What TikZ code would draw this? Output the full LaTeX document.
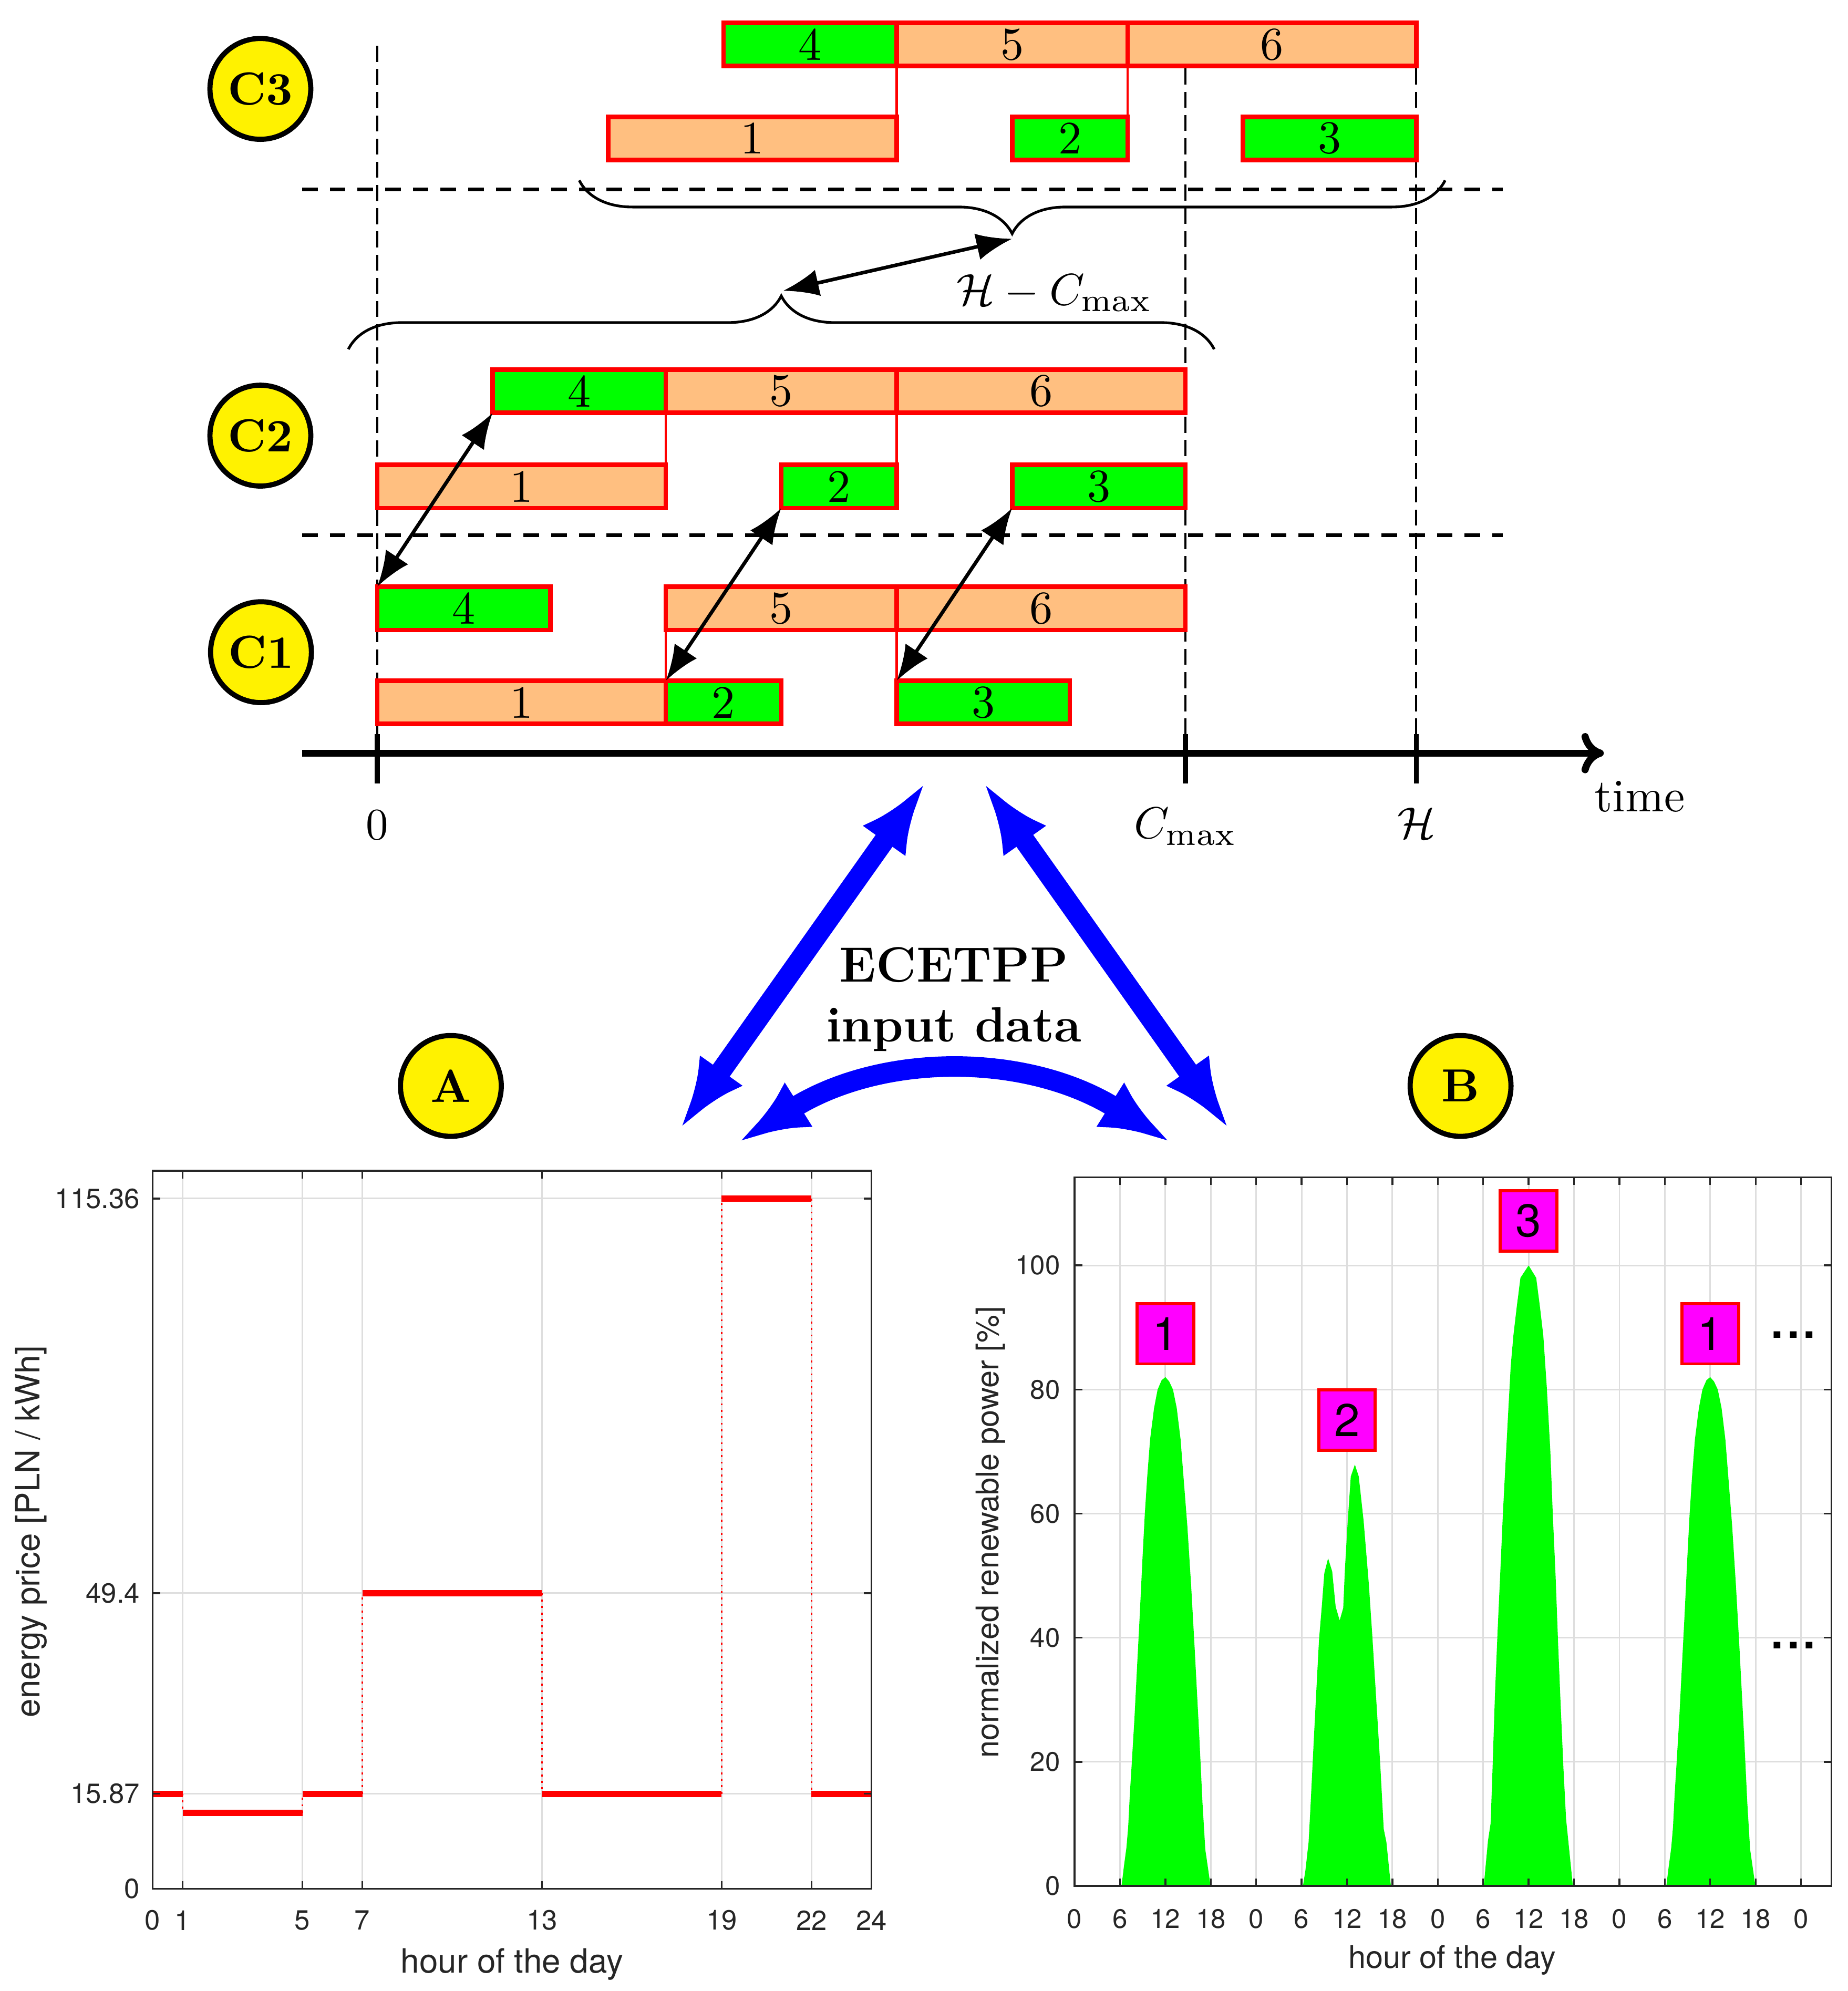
\documentclass[tikz,border=0pt]{standalone}
\usepackage{fontspec}
\newfontfamily\plotfont{TeX Gyre Heros}
\usetikzlibrary{arrows.meta,decorations.pathreplacing}

\definecolor{plotgray}{RGB}{38,38,38}
\definecolor{gridgray}{RGB}{222,222,222}
\definecolor{machinefill}{RGB}{255,242,0}
\definecolor{peakfill}{RGB}{255,0,255}
\newcommand{\ganttfont}{\fontsize{10.4}{12.5}\selectfont}

\tikzset{
  job/.style={draw=red, line width=1pt, anchor=north west, inner sep=0pt, outer sep=0pt,
              minimum height=3.4mm, minimum width=#1*4.545mm, font=\ganttfont},
  gjob/.style={job=#1, fill=green},
  ojob/.style={job=#1, fill=orange!50},
  link/.style={red, line width=0.5pt},
  machine/.style={circle, draw, line width=1.15pt, fill=machinefill,
                  minimum size=7.94mm, inner sep=0pt, font=\ganttfont\bfseries},
  pair/.style={thick, {Latex[length=8pt,width=6pt]}-{Latex[length=8pt,width=6pt]}},
  feed/.style={blue, line width=4.6pt,
               {Latex[length=15.7pt,width=11.8pt]}-{Latex[length=15.7pt,width=11.8pt]}},
  vguide/.style={line width=0.5pt, dash pattern=on 3.6pt off 1.6pt},
  hguide/.style={line width=0.8pt, dash pattern=on 3.5pt off 2.7pt},
  span brace/.style={semithick, decorate, decoration={brace, amplitude=4.2mm}},
  frame/.style={plotgray, line width=0.4pt},
  grid line/.style={gridgray, line width=0.35pt},
  price/.style={red, line width=1.4pt},
  price step/.style={red, line width=0.45pt, densely dotted},
  tick label A/.style={text=plotgray, inner sep=0pt, font=\plotfont\fontsize{6.2}{7.5}\selectfont},
  axis label A/.style={text=plotgray, inner sep=0pt, font=\plotfont\fontsize{7.5}{9}\selectfont},
  tick label B/.style={text=plotgray, inner sep=0pt, font=\plotfont\fontsize{6}{7.2}\selectfont},
  axis label B/.style={text=plotgray, inner sep=0pt, font=\plotfont\fontsize{7}{8.4}\selectfont},
  peak/.style={draw=red, fill=peakfill, line width=0.7pt, minimum width=4.45mm,
               minimum height=4.75mm, inner sep=0pt, font=\plotfont\fontsize{10.3}{12}\selectfont},
  more/.style={inner sep=0pt, font=\plotfont\bfseries\fontsize{10}{12}\selectfont},
}

\begin{document}
\begin{tikzpicture}[x=0.1mm, y=-0.1mm]
  \useasboundingbox (0,0) rectangle (1455,1567.6);

  % schedules of the three cases on a common time axis
  \begin{scope}[shift={(297,0)}, x=4.545mm]
    \draw[vguide] (0,36) -- (0,593);
    \draw[vguide] (14,54) -- (14,593);
    \draw[vguide] (18,54) -- (18,593);
    \draw[hguide] (-1.3,149) -- (19.5,149);
    \draw[hguide] (-1.3,421.5) -- (19.5,421.5);

    % C3
    \node[gjob=3] (c4) at (6,18)  {4};
    \node[ojob=4] (c5) at (9,18)  {5};
    \node[ojob=5] (c6) at (13,18) {6};
    \node[ojob=5] (c1) at (4,92)  {1};
    \node[gjob=2] (c2) at (11,92) {2};
    \node[gjob=3] (c3) at (15,92) {3};
    \draw[link] (c5.south west) -- (c1.north east);
    \draw[link] (c6.south west) -- (c2.north east);

    % C2
    \node[gjob=3] (b4) at (2,291)  {4};
    \node[ojob=4] (b5) at (5,291)  {5};
    \node[ojob=5] (b6) at (9,291)  {6};
    \node[ojob=5] (b1) at (0,366)  {1};
    \node[gjob=2] (b2) at (7,366)  {2};
    \node[gjob=3] (b3) at (11,366) {3};
    \draw[link] (b5.south west) -- (b1.north east);
    \draw[link] (b6.south west) -- (b2.north east);

    % C1
    \node[gjob=3] (a4) at (0,462) {4};
    \node[ojob=4] (a5) at (5,462) {5};
    \node[ojob=5] (a6) at (9,462) {6};
    \node[ojob=5] (a1) at (0,536) {1};
    \node[gjob=2] (a2) at (5,536) {2};
    \node[gjob=3] (a3) at (9,536) {3};
    \draw[link] (a5.south west) -- (a2.north west);
    \draw[link] (a6.south west) -- (a3.north west);

    \draw[pair] (a4.north west) -- (b4.south west);
    \draw[pair] (a2.north west) -- (b2.south west);
    \draw[pair] (a3.north west) -- (b3.south west);

    % spans of C3 and C2
    \draw[span brace] (18.5,142) -- (3.5,142);
    \draw[span brace] (-0.5,275) -- (14.5,275);
    \coordinate (gapR) at (11,188);
    \coordinate (gapL) at (7.03,229);
    \draw[pair] (gapR) -- (gapL);
    \node[anchor=base, font=\ganttfont] (gap) at (11.73,240) {$\mathcal{H}-C_{\max}$};

    % time axis
    \coordinate (tstart) at (-1.3,593);
    \coordinate (tend) at (21.25,593);
    \draw[line width=1.6pt, -{Computer Modern Rightarrow[length=5pt,width=9pt]}] (tstart) -- (tend);
    \foreach \t in {0,14,18}
      \draw[line width=1.1pt] (\t,578) -- (\t,617);
    \node[anchor=base, font=\ganttfont] (zero) at (0,661)     {$0$};
    \node[anchor=base, font=\ganttfont] (cmax) at (14,660)    {$C_{\max}$};
    \node[anchor=base, font=\ganttfont] (hor)  at (18,660)    {$\mathcal{H}$};
    \node[anchor=base, font=\ganttfont] (time) at (21.87,639) {time};
  \end{scope}

  \node[machine] (m3) at (205,70)      {C3};
  \node[machine] (m2) at (205,343)     {C2};
  \node[machine] (m1) at (205.5,513.5) {C1};
  \node[machine] (inA) at (355,855)    {A};
  \node[machine] (inB) at (1150,855)   {B};

  % input data links
  \coordinate (topL) at (728,617);
  \coordinate (botA) at (536,888);
  \coordinate (topR) at (775,617);
  \coordinate (botB) at (967,888);
  \coordinate (arcA) at (582,899);
  \coordinate (arcB) at (921,899);
  \draw[feed] (topL) -- (botA);
  \draw[feed] (topR) -- (botB);
  \draw[feed] (arcA) .. controls (694.5,828.7) and (808.5,828.7) .. (arcB);
  \node[font=\fontsize{11.1}{13.5}\selectfont\bfseries, align=center, anchor=north, inner sep=0pt]
    (ecetpp) at (751,745) {ECETPP\\input data};

  % A: energy price
  \begin{scope}[shift={(120.2,1487)}, x=2.358mm, y=0.471mm]
    \foreach \x in {0,1,5,7,13,19,22,24}
      \draw[grid line] (\x,0) -- (\x,120);
    \foreach \y in {0,15.87,49.4,115.36}
      \draw[grid line] (0,\y) -- (24,\y);
    \draw[price step] (1,15.87) -- (1,12.7);
    \draw[price step] (5,12.7) -- (5,15.87);
    \draw[price step] (7,15.87) -- (7,49.4);
    \draw[price step] (13,49.4) -- (13,15.87);
    \draw[price step] (19,15.87) -- (19,115.36);
    \draw[price step] (22,115.36) -- (22,15.87);
    \draw[price] (0,15.87) -- (1,15.87);
    \draw[price] (1,12.7) -- (5,12.7);
    \draw[price] (5,15.87) -- (7,15.87);
    \draw[price] (7,49.4) -- (13,49.4);
    \draw[price] (13,15.87) -- (19,15.87);
    \draw[price] (19,115.36) -- (22,115.36);
    \draw[price] (22,15.87) -- (24,15.87);
    \draw[frame] (0,0) rectangle (24,120);
    \foreach \x [count=\i] in {0,1,5,7,13,19,22,24} {
      \draw[frame] (\x,0) -- ++(0,0.6mm) (\x,120) -- ++(0,-0.6mm);
      \node[tick label A] (xa\i) at (\x,-5.3) {\x};
    }
    \foreach \y [count=\i] in {0,15.87,49.4,115.36} {
      \draw[frame] (0,\y) -- ++(0.6mm,0) (24,\y) -- ++(-0.6mm,0);
      \node[tick label A, anchor=east] (ya\i) at (-0.4,\y) {\y};
    }
    \node[axis label A] (xlabA) at (12,-12.65) {hour of the day};
    \node[axis label A, rotate=90] (ylabA) at (-4.05,59.7) {energy price [PLN / kWh]};
  \end{scope}

  % B: renewable power
  \begin{scope}[shift={(846.1,1484.9)}, x=0.5958mm, y=0.4886mm]
    \foreach \x in {0,6,...,96}
      \draw[grid line] (\x,0) -- (\x,114.2);
    \foreach \y in {0,20,...,100}
      \draw[grid line] (0,\y) -- (100,\y);
    \foreach \d in {0,72}
      \fill[green, shift={(\d,0)}] (6.2,0) -- (6.5,3) -- (6.85,6.2) -- (7.08,9.5) -- (7.31,15)
        -- (7.55,19.7) -- (7.9,26.8) -- (8.24,35) -- (8.59,43.2) -- (8.98,53) -- (9.28,60)
        -- (9.6,66) -- (9.98,72) -- (10.5,77) -- (10.97,80) -- (11.5,81.5) -- (12,82)
        -- (12.5,81.3) -- (13,80) -- (13.5,77) -- (14,72) -- (14.45,65) -- (14.9,58)
        -- (15.4,48.4) -- (15.87,38.2) -- (16.45,24.8) -- (16.9,13.4) -- (17.27,5.9)
        -- (17.97,0) -- cycle;
    \fill[green, shift={(24,0)}] (6.18,0) -- (6.5,2.5) -- (6.92,7) -- (7.15,12.2) -- (7.6,23.3)
      -- (7.96,31.8) -- (8.3,39.7) -- (8.65,44.8) -- (9,50.4) -- (9.5,52.8) -- (10.04,50.7)
      -- (10.5,45) -- (11.03,42.8) -- (11.5,44.8) -- (11.72,51) -- (12.1,58.9) -- (12.5,66)
      -- (13.04,67.9) -- (13.55,66) -- (14.19,58.9) -- (14.88,48.7) -- (15.35,40.2)
      -- (15.92,28.9) -- (16.4,19.4) -- (16.85,9.2) -- (17.2,7.1) -- (17.8,0) -- cycle;
    \fill[green, shift={(48,0)}] (6.07,0) -- (6.63,7.3) -- (6.98,10.1) -- (7.2,17.7)
      -- (7.55,30.8) -- (7.9,41.1) -- (8.24,50.1) -- (8.59,59.7) -- (8.94,68) -- (9.3,76.3)
      -- (9.64,83.9) -- (9.99,88.7) -- (10.45,93.5) -- (10.92,98) -- (12,100) -- (13,98)
      -- (13.48,93.5) -- (13.94,88.7) -- (14.4,80.4) -- (14.87,70.1) -- (15.2,59.7)
      -- (15.56,50.1) -- (15.9,39) -- (16.25,28.7) -- (16.6,19) -- (16.95,10.8)
      -- (17.3,6.6) -- (17.85,0) -- cycle;
    \draw[frame] (0,0) rectangle (100,114.2);
    \foreach \x [count=\i] in {0,6,...,96} {
      \pgfmathtruncatemacro\h{mod(\x,24)}
      \draw[frame] (\x,0) -- ++(0,0.6mm) (\x,114.2) -- ++(0,-0.6mm);
      \node[tick label B] (xb\i) at (\x,-5.3) {\h};
    }
    \foreach \y [count=\i] in {0,20,...,100} {
      \draw[frame] (0,\y) -- ++(0.6mm,0) (100,\y) -- ++(-0.6mm,0);
      \node[tick label B, anchor=east] (yb\i) at (-1.8,\y) {\y};
    }
    \node[axis label B] (xlabB) at (49.9,-11.95) {hour of the day};
    \node[axis label B, rotate=90] (ylabB) at (-11.1,57) {normalized renewable power [\%]};
    \node[peak] (p1) at (12,89)    {1};
    \node[peak] (p2) at (36,75.1)  {2};
    \node[peak] (p3) at (60,107.2) {3};
    \node[peak] (p4) at (84,89)    {1};
    \node[more] (more1) at (95,88.8) {.\kern0.8pt.\kern0.8pt.};
    \node[more] (more2) at (95,38.8) {.\kern0.8pt.\kern0.8pt.};
  \end{scope}
\end{tikzpicture}
\end{document}
